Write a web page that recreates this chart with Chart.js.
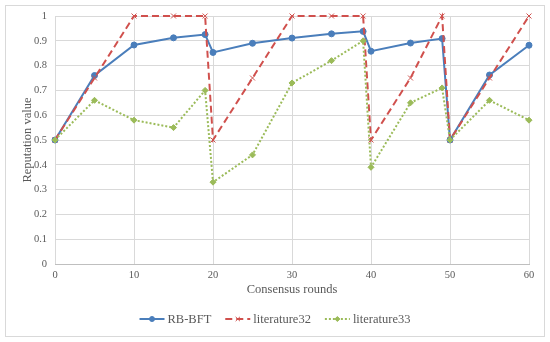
<!DOCTYPE html>
<html>
<head>
<meta charset="utf-8">
<script src="https://cdn.jsdelivr.net/npm/chart.js@4/dist/chart.umd.min.js"></script>
<style>
  html, body { margin: 0; padding: 0; background: #fff; }
  #wrap { width: 550px; height: 342px; }
</style>
</head>
<body>
<div id="wrap"><canvas id="chart" width="550" height="342"></canvas></div>
<script>
// consensus rounds where each value was sampled
const rounds = [0, 5, 10, 15, 19, 20, 25, 30, 35, 39, 40, 45, 49, 50, 55, 60];
const rbBft = [0.5, 0.76, 0.883, 0.912, 0.925, 0.853, 0.89, 0.911, 0.928, 0.938, 0.858, 0.891, 0.909, 0.5, 0.762, 0.882];
const literature32 = [0.5, 0.75, 1, 1, 1, 0.5, 0.75, 1, 1, 1, 0.5, 0.75, 1, 0.5, 0.75, 1];
const literature33 = [0.5, 0.66, 0.58, 0.55, 0.70, 0.33, 0.44, 0.73, 0.82, 0.90, 0.39, 0.65, 0.71, 0.5, 0.66, 0.58];
const xTicks = [0, 10, 20, 30, 40, 50, 60];

const serif = '"Liberation Serif", "Times New Roman", serif';
const grey = '#595959';

function pts(ys) {
  return rounds.map((x, i) => ({ x: x, y: ys[i] }));
}

// frame round the whole figure
const framePlugin = {
  id: 'frame',
  beforeDraw(chart) {
    const ctx = chart.ctx;
    ctx.save();
    ctx.fillStyle = '#fff';
    ctx.fillRect(0, 0, chart.width, chart.height);
    ctx.strokeStyle = '#d9d9d9';
    ctx.lineWidth = 1;
    ctx.strokeRect(5.5, 5.5, chart.width - 11, chart.height - 11);
    ctx.restore();
  }
};

// legend with line sample + marker, like the office-style legend
const lineLegend = {
  id: 'lineLegend',
  afterDraw(chart) {
    const ctx = chart.ctx;
    const sets = chart.data.datasets;
    const lineLen = 25, gap = 3, itemGap = 14;
    ctx.save();
    ctx.font = '12.5px ' + serif;
    const widths = sets.map(d => lineLen + gap + ctx.measureText(d.label).width);
    const total = widths.reduce((a, b) => a + b, 0) + itemGap * (sets.length - 1);
    let x = (chart.width - total) / 2;
    const y = 319;
    sets.forEach((d, i) => {
      ctx.strokeStyle = d.borderColor;
      ctx.lineWidth = d.borderWidth;
      ctx.setLineDash(d.borderDash || []);
      ctx.beginPath();
      ctx.moveTo(x, y);
      ctx.lineTo(x + lineLen, y);
      ctx.stroke();
      ctx.setLineDash([]);
      ctx.fillStyle = d.pointBackgroundColor;
      ctx.strokeStyle = d.pointBorderColor;
      ctx.lineWidth = d.pointBorderWidth;
      Chart.helpers.drawPoint(ctx, {
        pointStyle: d.pointStyle,
        radius: d.pointRadius - 0.5,
        rotation: 0,
        borderWidth: d.pointBorderWidth
      }, x + lineLen / 2, y);
      ctx.fillStyle = grey;
      ctx.textBaseline = 'middle';
      ctx.textAlign = 'left';
      ctx.fillText(d.label, x + lineLen + gap, y + 1);
      x += widths[i] + itemGap;
    });
    ctx.restore();
  }
};

new Chart(document.getElementById('chart'), {
  type: 'line',
  data: {
    datasets: [
      {
        label: 'RB-BFT',
        data: pts(rbBft),
        borderColor: '#4a7ebb',
        borderWidth: 2,
        pointStyle: 'circle',
        pointRadius: 3,
        pointBackgroundColor: '#4a7ebb',
        pointBorderColor: '#4a7ebb',
        pointBorderWidth: 1,
        order: 3
      },
      {
        label: 'literature32',
        data: pts(literature32),
        borderColor: '#d0504d',
        borderWidth: 2,
        borderDash: [7, 4],
        pointStyle: 'crossRot',
        pointRadius: 3.5,
        pointBackgroundColor: '#d0504d',
        pointBorderColor: '#d0504d',
        pointBorderWidth: 1,
        order: 2
      },
      {
        label: 'literature33',
        data: pts(literature33),
        borderColor: '#9bbb59',
        borderWidth: 2,
        borderDash: [2, 2],
        pointStyle: 'rectRot',
        pointRadius: 3,
        pointBackgroundColor: '#9bbb59',
        pointBorderColor: '#9bbb59',
        pointBorderWidth: 1,
        order: 1
      }
    ]
  },
  options: {
    responsive: false,
    animation: false,
    clip: false,
    layout: { padding: { top: 16, right: 21, left: 0, bottom: 0 } },
    plugins: {
      legend: { display: false },
      tooltip: { enabled: false }
    },
    scales: {
      x: {
        type: 'linear',
        min: 0,
        max: 60,
        afterFit(scale) { scale.height = 78; },
        afterBuildTicks(scale) { scale.ticks = xTicks.map(v => ({ value: v })); },
        grid: { color: '#d9d9d9', drawTicks: false },
        border: { color: '#bfbfbf' },
        ticks: { color: grey, padding: 5, font: { family: serif, size: 10.5 } },
        title: {
          display: true,
          text: 'Consensus rounds',
          color: grey,
          font: { family: serif, size: 12.5 },
          padding: { top: 0, bottom: 45 }
        }
      },
      y: {
        min: 0,
        max: 1,
        afterFit(scale) { scale.width = 55; },
        grid: { color: '#d9d9d9', drawTicks: false },
        border: { display: false },
        ticks: {
          stepSize: 0.1,
          color: grey,
          padding: 8,
          font: { family: serif, size: 10.5 },
          callback: v => String(Number(v.toFixed(1)))
        },
        title: {
          display: true,
          text: 'Reputation value',
          color: grey,
          font: { family: serif, size: 12.5 },
          padding: { top: 20, bottom: 0 }
        }
      }
    }
  },
  plugins: [framePlugin, lineLegend]
});
</script>
</body>
</html>
